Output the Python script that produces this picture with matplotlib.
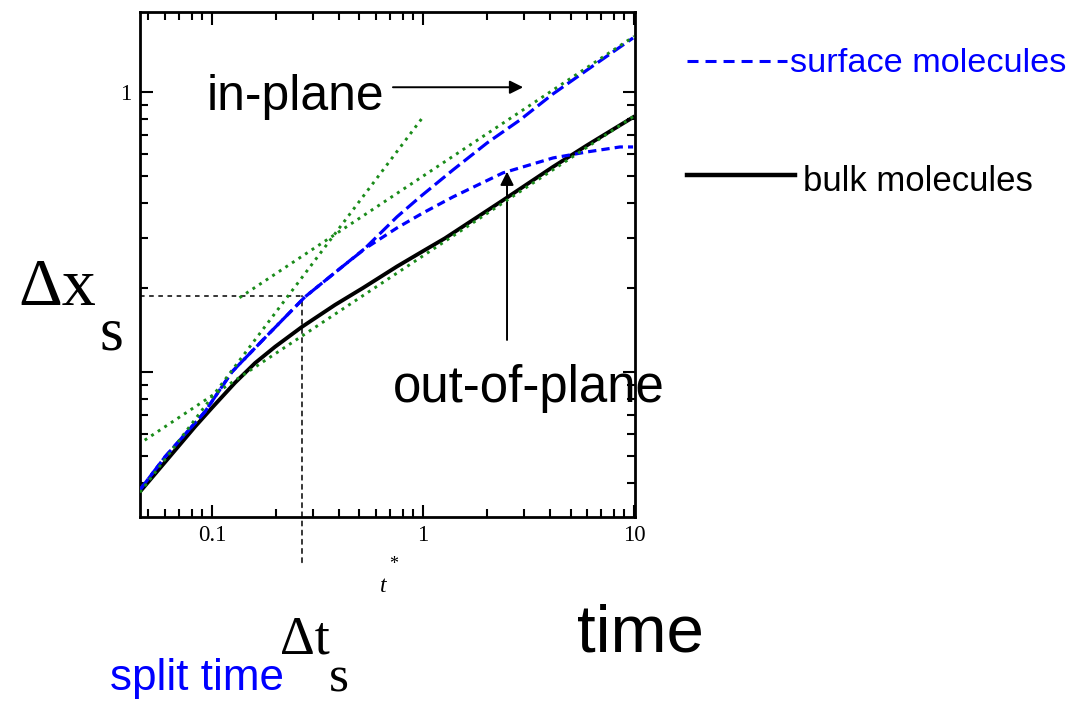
import numpy as np
import matplotlib.pyplot as plt
from matplotlib import font_manager
from matplotlib.lines import Line2D
from matplotlib.ticker import FixedLocator, LogLocator, NullFormatter

# narrow sans for the annotations if the system has it, else shrink the regular one
names = {f.name for f in font_manager.fontManager.ttflist}
if 'Liberation Sans Narrow' in names:
    SANS, K = 'Liberation Sans Narrow', 1.0
else:
    SANS, K = 'Liberation Sans', 0.835
SERIF = 'Liberation Serif'
plt.rcParams['font.family'] = SERIF

BLUE = '#0000ff'
GREEN = '#1a8c1a'

# bulk molecules (solid)
t_bulk = [0.0456, 0.083, 0.1, 0.1285, 0.16, 0.199, 0.267, 0.383, 0.52, 0.753, 1.0, 1.27, 2.39, 4.13, 5.99, 9.89]
dx_bulk = [0.0373, 0.0636, 0.0744, 0.0914, 0.1075, 0.1229, 0.1448, 0.1735, 0.1995, 0.238, 0.270, 0.300, 0.410, 0.540, 0.645, 0.812]

# surface molecules, in-plane (long dashes)
t_in = [0.0456, 0.0599, 0.0926, 0.1244, 0.184, 0.276, 0.413, 0.52, 0.753, 0.968, 1.387, 2.01, 2.88, 4.13, 5.99, 9.89]
dx_in = [0.0379, 0.0497, 0.072, 0.100, 0.1356, 0.1853, 0.237, 0.272, 0.358, 0.4217, 0.5266, 0.657, 0.794, 0.984, 1.198, 1.559]

# surface molecules, out-of-plane (short dashes)
t_out = [0.0456, 0.0599, 0.0926, 0.1244, 0.184, 0.276, 0.413, 0.52, 0.753, 1.0, 1.387, 2.39, 4.13, 5.99, 8.58, 9.89]
dx_out = [0.0379, 0.0497, 0.072, 0.100, 0.1356, 0.1853, 0.237, 0.2727, 0.3268, 0.3697, 0.4217, 0.5137, 0.581, 0.6105, 0.636, 0.636]

# power-law guides: ballistic, in-plane diffusive, bulk diffusive
t_ball, dx_ball = [0.0456, 1.0], [0.0371, 0.814]
t_diff_in, dx_diff_in = [0.135, 10.0], [0.184, 1.58]
t_diff_bulk, dx_diff_bulk = [0.048, 10.0], [0.057, 0.82]

# split point
t_split, dx_split = 0.267, 0.187
t_arrow, dx_arrow_tail = 2.5, 0.13

W, H = 1068, 716


def fx(px):
    return px / W


def fy(py):
    return 1 - py / H


fig = plt.figure(figsize=(W / 100, H / 100), dpi=100)
ax = fig.add_axes([fx(140), fy(517), 495 / W, 505 / H])
ax.set_xscale('log')
ax.set_yscale('log')
ax.set_xlim(0.0456, 10.1)
ax.set_ylim(0.0303, 1.93)

ax.plot(t_bulk, dx_bulk, color='k', lw=2.8, zorder=3)
ax.plot(t_in, dx_in, color=BLUE, lw=2.3, dashes=(4.2, 1.6), zorder=4)
ax.plot(t_out, dx_out, color=BLUE, lw=2.3, dashes=(2.6, 1.6), zorder=4)
for tt, yy in [(t_ball, dx_ball), (t_diff_in, dx_diff_in), (t_diff_bulk, dx_diff_bulk)]:
    ax.plot(tt, yy, color=GREEN, lw=2.1, linestyle=(0, (1, 1.7)), zorder=5)

# split time / split distance guides
ax.plot([ax.get_xlim()[0], t_split], [dx_split, dx_split], color='k', lw=1.1,
        linestyle=(0, (3, 3)), zorder=2)
ax.annotate('', xy=(t_split, dx_split), xycoords='data',
            xytext=(t_split, -0.09), textcoords=('data', 'axes fraction'),
            arrowprops=dict(arrowstyle='-', lw=1.1, linestyle=(0, (3, 3)),
                            shrinkA=0, shrinkB=0, color='k'),
            annotation_clip=False)

# arrows
ax.annotate('', xy=(0.774, 0.851), xycoords='axes fraction',
            xytext=(0.511, 0.851), textcoords='axes fraction',
            arrowprops=dict(arrowstyle='-|>', lw=1.4, color='k', mutation_scale=20,
                            shrinkA=0, shrinkB=0))
dx_tip = 10 ** np.interp(np.log10(t_arrow), np.log10(t_out), np.log10(dx_out))
ax.annotate('', xy=(t_arrow, dx_tip), xytext=(t_arrow, dx_arrow_tail),
            arrowprops=dict(arrowstyle='-|>', lw=1.4, color='k', mutation_scale=20,
                            shrinkA=0, shrinkB=0))

# axes styling
for s in ax.spines.values():
    s.set_linewidth(2.0)
ax.xaxis.set_major_locator(FixedLocator([0.1, 1, 10]))
ax.set_xticklabels(['0.1', '1', '10'])
ax.yaxis.set_major_locator(FixedLocator([0.1, 1]))
ax.set_yticklabels(['', '1'])
for axis in (ax.xaxis, ax.yaxis):
    axis.set_minor_locator(LogLocator(base=10, subs=np.arange(2, 10) * 1.0, numticks=20))
    axis.set_minor_formatter(NullFormatter())
ax.tick_params(which='both', direction='in', top=True, right=True, width=1.5)
ax.tick_params(which='major', length=9, labelsize=16.5, pad=6)
ax.tick_params(which='minor', length=5.5)

# labels on the plot
fig.text(fx(207), fy(110), 'in-plane', family=SANS, fontsize=43 * K, va='baseline')
fig.text(fx(393), fy(402), 'out-of-plane', family=SANS, fontsize=44 * K, va='baseline', zorder=10)
fig.text(fx(790), fy(72), 'surface molecules', family=SANS, fontsize=29.5 * K, color=BLUE, va='baseline')
fig.text(fx(803), fy(191), 'bulk molecules', family=SANS, fontsize=30 * K, va='baseline')
fig.text(fx(577), fy(652), 'time', family=SANS, fontsize=58 * K, va='baseline')
fig.text(fx(110), fy(690), 'split time', family=SANS, fontsize=38 * K, color=BLUE, va='baseline')

fig.text(fx(18), fy(305), 'Δx', fontsize=49, va='baseline')
fig.text(fx(100), fy(350), 's', fontsize=44, va='baseline')
fig.text(fx(280), fy(653), 'Δt', fontsize=39, va='baseline')
fig.text(fx(329), fy(692), 's', fontsize=37, va='baseline')
fig.text(fx(380), fy(592), 't', fontsize=17, style='italic', va='baseline')
fig.text(fx(389), fy(569), '*', fontsize=13, va='baseline')

# legend keys
fig.add_artist(Line2D([fx(687), fx(787)], [fy(61), fy(61)], transform=fig.transFigure,
                      color=BLUE, lw=2.2, dashes=(3.6, 2.3)))
fig.add_artist(Line2D([fx(687), fx(795)], [fy(175), fy(175)], transform=fig.transFigure,
                      color='k', lw=3.2))

fig.savefig('out.png', dpi=100)
